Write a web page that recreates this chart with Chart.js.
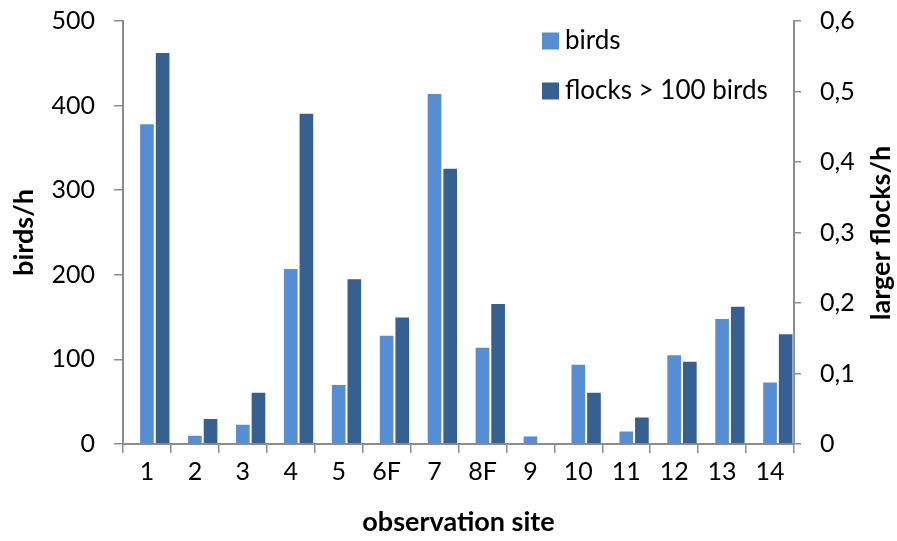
<!DOCTYPE html>
<html>
<head>
<meta charset="utf-8">
<script src="https://cdn.jsdelivr.net/npm/chart.js@4"></script>
<style>
  html, body { margin: 0; padding: 0; background: #fff; }
  #wrap { width: 897px; height: 541px; position: relative; }
</style>
</head>
<body>
<div id="wrap"><canvas id="c" width="897" height="541"></canvas></div>
<script>
const sites = ['1', '2', '3', '4', '5', '6F', '7', '8F', '9', '10', '11', '12', '13', '14'];
const birdsPerHour = [379, 11, 24, 208, 71, 129, 415, 115, 10, 95, 16, 106, 149, 74];
const flocksPerHour = [0.556, 0.037, 0.074, 0.470, 0.235, 0.181, 0.392, 0.200, 0, 0.074, 0.039, 0.118, 0.196, 0.157];
const seriesNames = ['birds', 'flocks > 100 birds'];
const axisTitles = { x: 'observation site', left: 'birds/h', right: 'larger flocks/h' };

const FONT = 'Lato';
const AXIS_COLOR = '#8c8c8c';

const overlay = {
  id: 'overlay',
  afterDraw(chart) {
    const ctx = chart.ctx;
    ctx.save();
    ctx.fillStyle = '#000';
    ctx.font = 'bold 27px ' + FONT;
    ctx.textAlign = 'center';
    ctx.textBaseline = 'middle';
    ctx.translate(881, 233);
    ctx.rotate(-Math.PI / 2);
    ctx.fillText(axisTitles.right, 0, 0);
    ctx.restore();

    ctx.save();
    ctx.font = '26px ' + FONT;
    ctx.textAlign = 'left';
    ctx.textBaseline = 'middle';
    const ys = [41, 91];
    const shown = chart.data.datasets.filter(ds => !ds.spacer);
    shown.forEach((ds, i) => {
      ctx.fillStyle = ds.backgroundColor;
      ctx.fillRect(542, ys[i] - 8.5, 17, 17);
      ctx.fillStyle = '#000';
      ctx.fillText(ds.label, 565, ys[i]);
    });
    ctx.restore();
  }
};

function fixVertical(width) {
  return function (scale) {
    scale.width = width;
    scale.paddingTop = 0;
    scale.paddingBottom = 0;
  };
}

const CAT_PCT = 0.98;

new Chart(document.getElementById('c'), {
  type: 'bar',
  data: {
    labels: sites,
    datasets: [
      {
        // empty slot: the original clusters sit in the right part of each category
        label: '',
        spacer: true,
        data: sites.map(() => null),
        yAxisID: 'yL',
        backgroundColor: 'rgba(0,0,0,0)',
        categoryPercentage: CAT_PCT,
        barPercentage: 1.0
      },
      {
        label: seriesNames[0],
        data: birdsPerHour,
        yAxisID: 'yL',
        backgroundColor: '#558ED5',
        borderColor: 'rgba(255,255,255,0.55)',
        borderWidth: 1,
        categoryPercentage: CAT_PCT,
        barPercentage: 1.0
      },
      {
        label: seriesNames[1],
        data: flocksPerHour,
        yAxisID: 'yR',
        backgroundColor: '#376092',
        borderColor: 'rgba(255,255,255,0.55)',
        borderWidth: 1,
        categoryPercentage: CAT_PCT,
        barPercentage: 1.0
      }
    ]
  },
  options: {
    responsive: false,
    animation: false,
    events: [],
    layout: { padding: { top: 21, left: 0, right: 0, bottom: 0 } },
    plugins: {
      legend: { display: false },
      tooltip: { enabled: false },
      title: { display: false }
    },
    scales: {
      x: {
        offset: true,
        grid: {
          display: true,
          offset: true,
          drawOnChartArea: false,
          drawTicks: true,
          tickLength: 9,
          color: AXIS_COLOR,
          lineWidth: 1.5
        },
        border: { display: true, color: AXIS_COLOR, width: 2 },
        ticks: {
          color: '#000',
          font: { family: FONT, size: 25 },
          padding: 4,
          maxRotation: 0,
          autoSkip: false
        },
        title: {
          display: true,
          text: axisTitles.x,
          color: '#000',
          font: { family: FONT, size: 27, weight: 'bold' },
          padding: { top: 0, bottom: 3 }
        },
        afterFit(scale) { scale.height = 97; scale.paddingLeft = 0; scale.paddingRight = 0; }
      },
      yL: {
        position: 'left',
        min: 0,
        max: 500,
        grid: {
          display: true,
          drawOnChartArea: false,
          drawTicks: true,
          tickLength: 9,
          color: AXIS_COLOR,
          lineWidth: 1.5
        },
        border: { display: true, color: AXIS_COLOR, width: 2 },
        ticks: {
          stepSize: 100,
          color: '#000',
          font: { family: FONT, size: 25 },
          padding: 19
        },
        title: {
          display: true,
          text: axisTitles.left,
          color: '#000',
          font: { family: FONT, size: 27, weight: 'bold' },
          padding: { top: 8, bottom: 0 }
        },
        afterFit: fixVertical(123)
      },
      yR: {
        position: 'right',
        min: 0,
        max: 0.6,
        grid: {
          display: true,
          drawOnChartArea: false,
          drawTicks: true,
          tickLength: 7,
          color: AXIS_COLOR,
          lineWidth: 1.5
        },
        border: { display: true, color: AXIS_COLOR, width: 2 },
        ticks: {
          stepSize: 0.1,
          color: '#000',
          font: { family: FONT, size: 25 },
          padding: 19,
          callback: (v) => {
            const r = Math.round(v * 10) / 10;
            return r === 0 ? '0' : r.toFixed(1).replace('.', ',');
          }
        },
        afterFit: fixVertical(103)
      }
    }
  },
  plugins: [overlay]
});
</script>
</body>
</html>
